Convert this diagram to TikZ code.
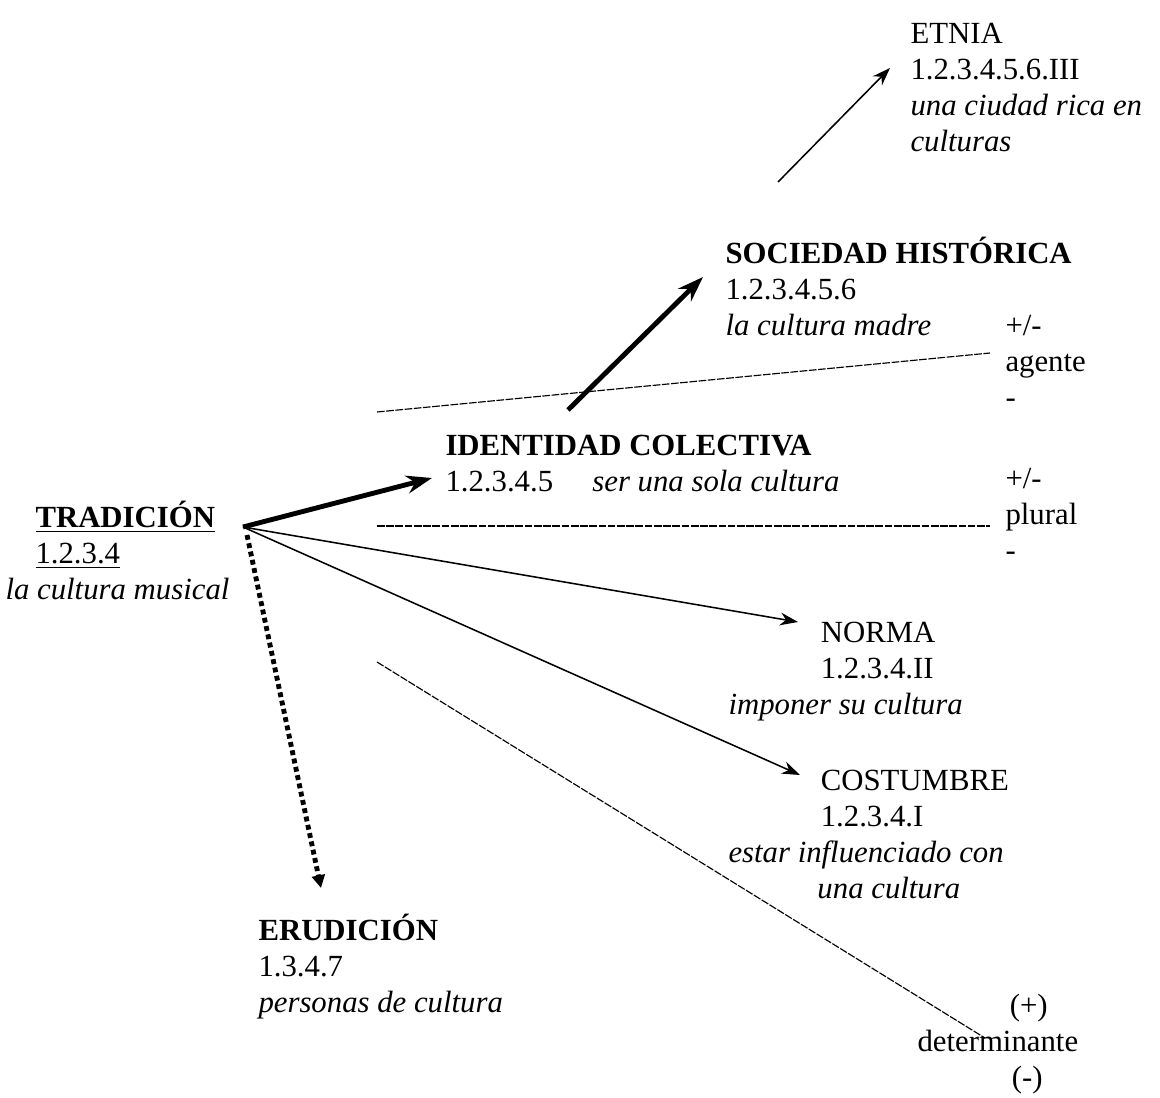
\documentclass[tikz,border=0pt]{standalone}
\usepackage{fontspec}
\setmainfont{Liberation Serif}
\usetikzlibrary{arrows.meta}
\tikzset{every node/.style={align=left, anchor=north west, inner sep=0pt, font=\fontsize{12}{14}\selectfont}}
\tikzset{bigarrow/.style={line width=1.9pt, -{Stealth[length=10pt,width=7pt]}}}
\tikzset{thinarrow/.style={line width=0.6pt, -{Stealth[length=7pt,width=5pt]}}}
\tikzset{dotarrow/.style={line width=1.9pt, dash pattern=on 1.9pt off 1.4pt, -{Triangle[length=5pt,width=5pt]}}}
\tikzset{divider/.style={line width=0.45pt, dash pattern=on 3pt off 0.6pt}}
\newcommand{\tl}{\rule{0pt}{11pt}}
\newcommand{\ind}{\hspace*{36pt}}

\begin{document}
\begin{tikzpicture}[x=0.39pt, y=-0.39pt]
		\useasboundingbox (0,0) rectangle (1160,1098);

		% Concepts
		\node (trad) at (5,499) {\tl\hspace*{11.7pt}\underline{\textbf{TRADICIÓN}}\\\hspace*{11.7pt}\underline{1.2.3.4}\\\textit{la cultura musical}};
		\node (ident) at (445,427) {\tl\textbf{IDENTIDAD COLECTIVA}\\\makebox[57.3pt][l]{1.2.3.4.5}\textit{ser una sola cultura}};
		\node (soc) at (725,235) {\tl\textbf{SOCIEDAD HISTÓRICA}\\1.2.3.4.5.6\\\textit{la cultura madre}};
		\node (etnia) at (910,15) {\tl ETNIA\\1.2.3.4.5.6.III\\\textit{una ciudad rica en}\\\textit{culturas}};
		\node (norma) at (728,614) {\tl\ind NORMA\\\ind 1.2.3.4.II\\\textit{imponer su cultura}};
		\node (cost) at (728,762) {\tl\ind COSTUMBRE\\\ind 1.2.3.4.I\\\textit{estar influenciado con}\\\hspace*{34.7pt}\textit{una cultura}};
		\node (erud) at (258,912) {\tl\textbf{ERUDICIÓN}\\1.3.4.7\\\textit{personas de cultura}};

		% Scales
		\node (agente) at (1005,307) {\tl+/-\\agente\\-};
		\node (plural) at (1005,460) {\tl+/-\\plural\\-};
		\node (determ) at (917,987) {\tl\ind(+)\\determinante\\\hspace*{36.8pt}(-)};

		% Coordinates
		\coordinate (hub) at ([shift={(238,28)}]trad.north west);
		\coordinate (socfrom) at (568,410);
		\coordinate (etnfrom) at (778,182);

		% Dividers
		\draw[divider] (377,412) -- (990,353);
		\draw[divider] (377,526) -- (990,526);
		\draw[divider] (377,662) -- (985,1038);

		% Arrows
		\draw[bigarrow] (hub) -- ([shift={(-13,51)}]ident.north west);
		\draw[bigarrow] (socfrom) -- ([shift={(-22,42)}]soc.north west);
		\draw[thinarrow] (etnfrom) -- ([shift={(-20,53)}]etnia.north west);
		\draw[thinarrow] (hub) -- ([shift={(70,8)}]norma.north west);
		\draw[thinarrow] (hub) -- ([shift={(72,13)}]cost.north west);
		\draw[dotarrow] ([shift={(4,8)}]hub) -- ([shift={(63,-24)}]erud.north west);
\end{tikzpicture}
\end{document}
